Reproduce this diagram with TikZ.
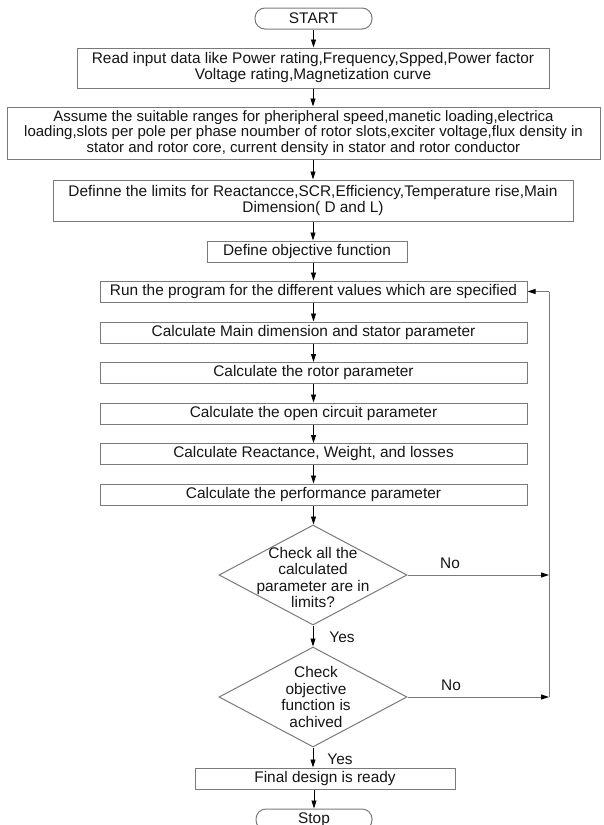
\documentclass[tikz,border=0pt]{standalone}
\usepackage{fontspec}
\setmainfont{Liberation Sans}
\usetikzlibrary{shapes.geometric,arrows.meta}
\definecolor{boxgray}{HTML}{7A7A7A}
\definecolor{textc}{HTML}{151515}
\begin{document}
\begin{tikzpicture}[x=1pt,y=-1pt,
  txt/.style={font=\fontsize{15.4}{16}\selectfont, text=textc, align=center},
  dtxt/.style={font=\fontsize{15.4}{16.5}\selectfont, text=textc, align=center},
  box/.style={txt, draw=boxgray, line width=1pt, inner sep=0pt},
  term/.style={box, rounded corners=10pt},
  dia/.style={draw=boxgray, line width=1pt, shape=diamond, inner sep=0pt},
  arr/.style={draw=black, line width=0.9pt, -{Triangle[length=8pt,width=5pt]}},
  ln/.style={draw=boxgray, line width=1pt},
  lnarr/.style={ln, -{Triangle[length=8pt,width=5pt,color=black]}},
  lbl/.style={txt}
]
\clip (0,0) rectangle (603,825);
\fill[white] (0,0) rectangle (603,825);

\node[term, minimum width=117pt, minimum height=21pt] (start) at (313.5,18.5) {START};
\node[box, minimum width=472pt, minimum height=40pt] (b1) at (313,68)
  {Read input data like Power rating,Frequency,Spped,Power factor\\Voltage rating,Magnetization curve};
\node[box, minimum width=593pt, minimum height=52pt, font=\fontsize{15}{15.7}\selectfont] (b2) at (303.5,133)
  {Assume the suitable ranges for pheripheral speed,manetic loading,electrica\\loading,slots per pole per phase noumber of rotor slots,exciter voltage,flux density in\\stator and rotor core, current density in stator and rotor conductor};
\node[box, minimum width=520pt, minimum height=41pt] (b3) at (313,200.5)
  {Definne the limits for Reactancce,SCR,Efficiency,Temperature rise,Main\\Dimension( D and L)};
\node[box, minimum width=200pt, minimum height=21pt] (b4) at (307,251.5) {Define objective function};
\node[box, minimum width=427pt, minimum height=21pt] (b5) at (313.5,291.5) {Run the program for the different values which are specified};
\node[box, minimum width=427pt, minimum height=21pt] (b6) at (313.5,332.5) {Calculate Main dimension and stator parameter};
\node[box, minimum width=427pt, minimum height=21pt] (b7) at (313.5,373) {Calculate the rotor parameter};
\node[box, minimum width=427pt, minimum height=21pt] (b8) at (313.5,413.5) {Calculate the open circuit parameter};
\node[box, minimum width=427pt, minimum height=21pt] (b9) at (313.5,454) {Calculate Reactance, Weight, and losses};
\node[box, minimum width=427pt, minimum height=21pt] (b10) at (313.5,494.5) {Calculate the performance parameter};

\node[dia, minimum width=188pt, minimum height=100pt] (d1) at (313,575) {};
\node[dtxt] (d1t) at (313,577.5) {Check all the\\calculated\\parameter are in\\limits?};
\node[dia, minimum width=188pt, minimum height=100pt] (d2) at (313,697) {};
\node[dtxt] (d2t) at (316,697) {Check\\objective\\function is\\achived};

\node[box, minimum width=260pt, minimum height=21pt] (fin) at (325,778.5) {Final design is ready};
\node[term, minimum width=116pt, minimum height=21pt] (stop) at (314,819.5) {Stop};

\coordinate (fb) at (549,291.5);

\draw[arr] (start.south) -- (start.south |- b1.north);
\draw[arr] (b1.south) -- (b1.south |- b2.north);
\draw[arr] (b3.north |- b2.south) -- (b3.north);
\draw[arr] (b3.south) -- (b3.south |- b4.north);
\draw[arr] (b5.north |- b4.south) -- (b5.north);
\draw[arr] (b5.south) -- (b6.north);
\draw[arr] (b6.south) -- (b7.north);
\draw[arr] (b7.south) -- (b8.north);
\draw[arr] (b8.south) -- (b9.north);
\draw[arr] (b9.south) -- (b10.north);
\draw[arr] (b10.south) -- (b10.south |- d1.north);
\draw[arr] (d1.south) -- (d2.north);
\draw[arr] (d2.south) -- (d2.south |- fin.north);
\draw[arr] (stop.north |- fin.south) -- (stop.north);

\draw[lnarr] (d1.east) -- (d1.east -| fb);
\draw[lnarr] (d2.east) -- (d2.east -| fb);
\draw[ln] (d2.east -| fb) -- (fb);
\draw[lnarr] (fb) -- (b5.east);

\node[lbl] (no1) at (450,563) {No};
\node[lbl] (no2) at (451,685) {No};
\node[lbl] (yes1) at (342,637) {Yes};
\node[lbl] (yes2) at (340,759) {Yes};
\end{tikzpicture}
\end{document}
